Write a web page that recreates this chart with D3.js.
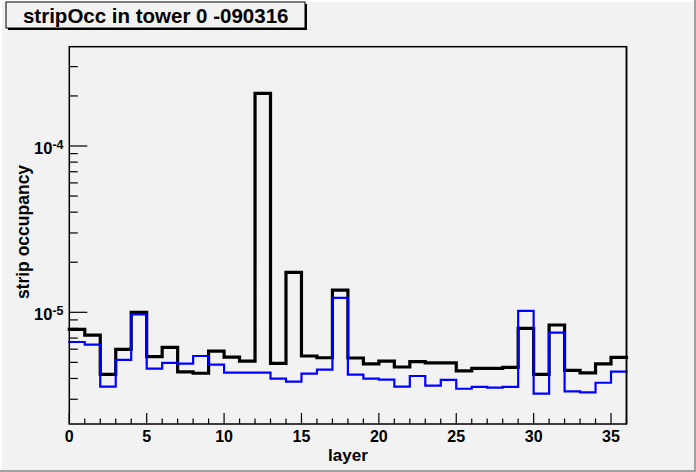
<!DOCTYPE html>
<html><head><meta charset="utf-8">
<script src="https://cdn.jsdelivr.net/npm/d3@7"></script>
<style>html,body{margin:0;padding:0;background:#f2f2f2} svg{display:block}</style>
</head><body>
<svg id="c" width="696" height="472"></svg>
<script>
// ---- data ----
const layers = [0,1,2,3,4,5,6,7,8,9,10,11,12,13,14,15,16,17,18,19,20,21,22,23,24,25,26,27,28,29,30,31,32,33,34,35];
const occBlack = [7.9e-6,7.3e-6,4.24e-6,5.99e-6,1.0e-5,5.41e-6,6.16e-6,4.38e-6,4.30e-6,5.85e-6,
  5.38e-6,5.09e-6,2.07e-4,4.93e-6,1.74e-5,5.46e-6,5.33e-6,1.36e-5,5.31e-6,4.89e-6,
  5.09e-6,4.69e-6,5.05e-6,4.96e-6,4.96e-6,4.44e-6,4.60e-6,4.60e-6,4.67e-6,8.01e-6,
  4.24e-6,8.39e-6,4.48e-6,4.32e-6,4.89e-6,5.36e-6];
const occBlue = [6.63e-6,6.39e-6,3.57e-6,5.17e-6,9.73e-6,4.58e-6,4.97e-6,4.91e-6,5.46e-6,4.84e-6,
  4.34e-6,4.34e-6,4.34e-6,3.99e-6,3.83e-6,4.28e-6,4.52e-6,1.22e-5,4.22e-6,3.99e-6,
  3.94e-6,3.57e-6,4.14e-6,3.62e-6,3.92e-6,3.47e-6,3.56e-6,3.52e-6,3.56e-6,1.02e-5,
  3.24e-6,7.54e-6,3.35e-6,3.30e-6,3.77e-6,4.40e-6];
const xTickLabels = [0,5,10,15,20,25,30,35];
const yLabelExponents = [-5,-4];
const titleText = "stripOcc in tower 0 -090316";
const xTitle = "layer";
const yTitle = "strip occupancy";

// ---- layout ----
const W = 696, H = 472;
const L = 69.3, R = 626.5, T = 46.7, B = 424;
const svg = d3.select("#c");
const font = "'Liberation Sans', Arial, Helvetica, sans-serif";

svg.append("rect").attr("width", W).attr("height", H).attr("fill", "#f2f2f2");
// canvas bevel
svg.append("rect").attr("x",0).attr("y",0).attr("width",W).attr("height",2).attr("fill","#ffffff");
svg.append("rect").attr("x",0).attr("y",0).attr("width",2).attr("height",H).attr("fill","#ffffff");
svg.append("rect").attr("x",0).attr("y",H-2).attr("width",W).attr("height",2).attr("fill","#a0a0a0");
svg.append("rect").attr("x",W-2).attr("y",0).attr("width",2).attr("height",H).attr("fill","#a0a0a0");

const x = d3.scaleLinear().domain([0, 36]).range([L, R]);
const y = d3.scaleLog().domain([2.13e-6, 3.954e-4]).range([B, T]);

// frame
svg.append("rect").attr("x", L).attr("y", T).attr("width", R - L).attr("height", B - T)
  .attr("fill", "none").attr("stroke", "#000").attr("stroke-width", 1.5);

// x ticks
const xMinor = d3.range(0, 37, 1);
svg.append("g").selectAll("line").data(xMinor).join("line")
  .attr("x1", d => x(d)).attr("x2", d => x(d))
  .attr("y1", B).attr("y2", d => d % 5 === 0 ? B - 11 : B - 5.5)
  .attr("stroke", "#000").attr("stroke-width", 1.2);
svg.append("g").selectAll("text").data(xTickLabels).join("text")
  .attr("x", d => x(d)).attr("y", 441.7)
  .attr("text-anchor", "middle")
  .attr("font-family", font).attr("font-weight", "bold").attr("font-size", 16)
  .text(d => d);

// y ticks
const yTickVals = y.ticks().filter(v => v >= y.domain()[0] && v <= y.domain()[1]);
svg.append("g").selectAll("line").data(yTickVals).join("line")
  .attr("x1", L).attr("x2", d => {
    const e = Math.log10(d);
    return Math.abs(e - Math.round(e)) < 1e-6 ? L + 18 : L + 8.5;
  })
  .attr("y1", d => y(d)).attr("y2", d => y(d))
  .attr("stroke", "#000").attr("stroke-width", 1.2);
const yl = svg.append("g").selectAll("text").data(yLabelExponents).join("text")
  .attr("font-family", font).attr("font-weight", "bold")
  .attr("text-anchor", "end")
  .attr("x", 63.5).attr("y", d => y(Math.pow(10, d)) + 8);
yl.append("tspan").attr("font-size", 16.5).text("10");
yl.append("tspan").attr("font-size", 12.5).attr("dy", -5.3).text(d => "-" + Math.abs(d));

// histograms
const stepLine = d3.line().x(d => x(d[0])).y(d => y(d[1])).curve(d3.curveStepAfter);
function pts(vals) {
  const p = layers.map((l, i) => [l, vals[i]]);
  p.push([layers[layers.length - 1] + 1, vals[vals.length - 1]]);
  return p;
}
svg.append("path").attr("d", stepLine(pts(occBlack)))
  .attr("fill", "none").attr("stroke", "#000").attr("stroke-width", 3.2).attr("stroke-linejoin", "miter").attr("stroke-linecap", "square");
svg.append("path").attr("d", stepLine(pts(occBlue)))
  .attr("fill", "none").attr("stroke", "#0000ff").attr("stroke-width", 2.2).attr("stroke-linejoin", "miter").attr("stroke-linecap", "square");

// redraw right frame edge on top
svg.append("line").attr("x1", R).attr("x2", R).attr("y1", T).attr("y2", B).attr("stroke","#000").attr("stroke-width",1.5);

// axis titles
svg.append("text").attr("x", (L + R) / 2).attr("y", 461)
  .attr("text-anchor", "middle")
  .attr("font-family", font).attr("font-weight", "bold").attr("font-size", 17)
  .text(xTitle);
svg.append("text").attr("transform", "translate(29,232) rotate(-90)")
  .attr("text-anchor", "middle")
  .attr("font-family", font).attr("font-weight", "bold").attr("font-size", 17.5)
  .text(yTitle);

// title box with shadow
svg.append("rect").attr("x", 8).attr("y", 4).attr("width", 299).attr("height", 26).attr("fill", "#000");
svg.append("rect").attr("x", 6).attr("y", 2).attr("width", 299).attr("height", 26)
  .attr("fill", "#f2f2f2").attr("stroke", "#000").attr("stroke-width", 1);
svg.append("text").attr("x", 155.7).attr("y", 23.3)
  .attr("text-anchor", "middle")
  .attr("font-family", font).attr("font-weight", "bold").attr("font-size", 20.5)
  .text(titleText);
</script>
</body></html>
